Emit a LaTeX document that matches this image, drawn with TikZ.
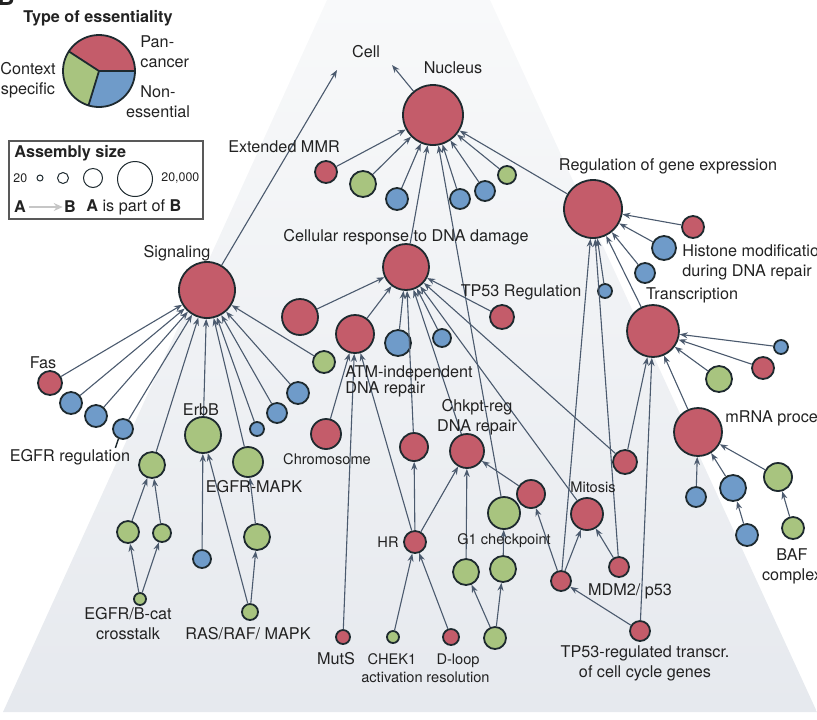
\documentclass[tikz,border=0pt]{standalone}
\usepackage{fontspec}
\setmainfont{TeX Gyre Heros}
\usetikzlibrary{arrows.meta}
\definecolor{panRed}{HTML}{C45C6A}
\definecolor{ctxGreen}{HTML}{A8C47F}
\definecolor{nonBlue}{HTML}{6F9BC9}
\definecolor{hfOutline}{HTML}{1E2A2F}
\definecolor{edgeSlate}{HTML}{4B5A6E}
\definecolor{hfInk}{HTML}{222222}
\definecolor{fadeTop}{HTML}{F8F9FA}
\definecolor{fadeBot}{HTML}{E6E9EE}
\newcommand{\lblfont}{\fontsize{8.1}{10}\selectfont}
\newcommand{\lblsmall}{\fontsize{7.3}{9}\selectfont}
\newcommand{\lbltiny}{\fontsize{6.2}{7.5}\selectfont}
\tikzset{
  asm/.style={circle,draw=hfOutline,line width=0.9pt,inner sep=0pt},
  pan/.style={asm,fill=panRed},
  ctx/.style={asm,fill=ctxGreen},
  non/.style={asm,fill=nonBlue},
  partof/.style={draw=edgeSlate,line width=0.55pt,-{Stealth[length=4pt,width=3pt]}},
  lbl/.style={text=hfInk,font=\lblfont,inner sep=0pt},
  lbls/.style={text=hfInk,font=\lblsmall,inner sep=0pt},
}
\begin{document}
\begin{tikzpicture}[x=0.5pt,y=-0.5pt]
  \useasboundingbox (0,0) rectangle (817,719);
  % fading backdrop
  \shade[top color=fadeTop,bottom color=fadeBot] (327,0) -- (490,0) -- (817,712) -- (3,712) -- cycle;
  \node[text=hfInk,font=\bfseries\fontsize{12}{12}\selectfont,anchor=base west,inner sep=0pt] (panel) at (-3,5) {B};

  % legend: type of essentiality
  \node[lbl,font=\bfseries\lblfont] (typehead) at (98,18) {Type of essentiality};
  \fill[panRed] (99,71) -- ++(0:36) arc[start angle=0,end angle=-147,radius=36] -- cycle;
  \fill[ctxGreen] (99,71) -- ++(-147:36) arc[start angle=-147,end angle=-253,radius=36] -- cycle;
  \fill[nonBlue] (99,71) -- ++(-253:36) arc[start angle=-253,end angle=-360,radius=36] -- cycle;
  \draw[hfOutline,line width=0.9pt] (99,71) circle (36);
  \draw[hfOutline,line width=0.9pt] (99,71) -- ++(0:36) (99,71) -- ++(-147:36) (99,71) -- ++(-253:36);
  \node[lbl,align=left,anchor=west] (pan) at (140,52) {Pan-\\cancer};
  \node[lbl,align=center] (ctx) at (28,80) {Context\\specific};
  \node[lbl,align=center] (non) at (158,102) {Non-\\essential};

  % legend: assembly size
  \draw[gray!70!black,line width=0.6pt] (9,141) rectangle (203,219);
  \node[lbl,font=\bfseries\lblfont,anchor=west] (sizehead) at (14,153) {Assembly size};
  \node[lbl,font=\lbltiny,anchor=west] (szmin) at (13,178) {20};
  \node[asm,line width=0.5pt,minimum size=3pt] (szA) at (40,178) {};
  \node[asm,line width=0.5pt,minimum size=5.5pt] (szB) at (63,178) {};
  \node[asm,line width=0.5pt,minimum size=9.5pt] (szC) at (93,178) {};
  \node[asm,line width=0.5pt,minimum size=17.5pt] (szD) at (135,179) {};
  \node[lbl,font=\lbltiny,anchor=west] (szmax) at (161,178) {20,000};
  \node[lbl,font=\bfseries\lblfont] (legA) at (20,207) {A};
  \node[lbl,font=\bfseries\lblfont] (legB) at (70,207) {B};
  \draw[gray!45,line width=1.3pt,-{Stealth[length=4.5pt,width=4pt]}] ([xshift=1.5pt]legA.east) -- ([xshift=-0.5pt]legB.west);
  \node[lbl,anchor=west] (legtxt) at (86,207) {\textbf{A} is part of \textbf{B}};

  % top targets
  \coordinate (cellA) at (337,70);
  \coordinate (cellB) at (392,65);
  \node[lbl] (celltxt) at (366,52) {Cell};

  % nucleus
  \node[pan,minimum size=30pt] (nuc) at (433,115) {};
  \node[pan,minimum size=11pt] (mmr) at (326,172) {};
  \node[ctx,minimum size=13pt] (nucA) at (363,184) {};
  \node[non,minimum size=11pt] (nucB) at (397,199) {};
  \node[non,minimum size=10pt] (nucC) at (460,199) {};
  \node[non,minimum size=10pt] (nucD) at (485,191) {};
  \node[ctx,minimum size=9pt] (nucE) at (507,175) {};

  % signaling
  \node[pan,minimum size=28pt] (sig) at (207,290) {};
  \node[pan,minimum size=12pt] (fas) at (50,383) {};
  \node[non,minimum size=11pt] (sigA) at (71,403) {};
  \node[non,minimum size=11pt] (sigB) at (96,416) {};
  \node[non,minimum size=10pt] (egfrreg) at (123,429) {};
  \node[ctx,minimum size=13pt] (sigC) at (152,465) {};
  \node[ctx,minimum size=18pt] (erbb) at (203,435) {};
  \node[non,minimum size=7pt] (sigD) at (257,429) {};
  \node[ctx,minimum size=15pt] (egfrmapk) at (248,462) {};
  \node[non,minimum size=10pt] (sigE) at (277,413) {};
  \node[non,minimum size=11pt] (sigF) at (298,393) {};
  \node[ctx,minimum size=11pt] (sigG) at (324,362) {};
  \node[ctx,minimum size=11pt] (bcatA) at (128,532) {};
  \node[ctx,minimum size=9pt] (bcatB) at (162,533) {};
  \node[ctx,minimum size=6pt] (bcat) at (140,599) {};
  \node[non,minimum size=9pt] (erbbA) at (202,559) {};
  \node[ctx,minimum size=13pt] (rasA) at (257,537) {};
  \node[ctx,minimum size=8pt] (ras) at (250,612) {};

  % DNA damage response
  \node[pan,minimum size=23pt] (crd) at (406,267) {};
  \node[pan,minimum size=18pt] (crdA) at (300,317) {};
  \node[pan,minimum size=19pt] (atm) at (355,334) {};
  \node[non,minimum size=13pt] (crdB) at (398,343) {};
  \node[non,minimum size=9pt] (crdC) at (442,338) {};
  \node[pan,minimum size=12pt] (tp53reg) at (502,317) {};
  \node[pan,minimum size=15pt] (chrom) at (326,434) {};
  \node[pan,minimum size=7pt] (muts) at (343,637) {};
  \node[pan,minimum size=11pt] (hr) at (415,542) {};
  \node[pan,minimum size=14pt] (hrA) at (414,447) {};
  \node[pan,minimum size=17pt] (chkpt) at (467,451) {};
  \node[ctx,minimum size=6pt] (chek) at (393,637) {};
  \node[pan,minimum size=8pt] (dloop) at (451,637) {};
  \node[ctx,minimum size=16pt] (g1) at (504,513) {};
  \node[ctx,minimum size=13pt] (g1A) at (466,572) {};
  \node[ctx,minimum size=13pt] (g1B) at (503,569) {};
  \node[ctx,minimum size=11pt] (g1C) at (495,638) {};
  \node[pan,minimum size=14pt] (chkA) at (531,494) {};
  \node[pan,minimum size=16pt] (mit) at (587,514) {};
  \node[pan,minimum size=10pt] (mdm) at (561,581) {};
  \node[pan,minimum size=10pt] (mitA) at (619,567) {};
  \node[pan,minimum size=10pt] (tp53tx) at (640,631) {};
  \node[pan,minimum size=12pt] (crdD) at (625,462) {};

  % gene expression
  \node[pan,minimum size=29pt] (reg) at (593,209) {};
  \node[pan,minimum size=11pt] (regA) at (693,227) {};
  \node[non,minimum size=12pt] (histone) at (664,248) {};
  \node[non,minimum size=10pt] (regB) at (645,273) {};
  \node[non,minimum size=7pt] (regC) at (605,291) {};
  \node[pan,minimum size=26pt] (trans) at (653,331) {};
  \node[non,minimum size=7pt] (transA) at (781,347) {};
  \node[pan,minimum size=11pt] (transB) at (763,368) {};
  \node[ctx,minimum size=13pt] (transC) at (719,379) {};
  \node[pan,minimum size=24pt] (mrna) at (698,432) {};
  \node[non,minimum size=10pt] (mrnaA) at (696,497) {};
  \node[non,minimum size=13pt] (mrnaB) at (733,488) {};
  \node[ctx,minimum size=14pt] (mrnaC) at (778,477) {};
  \node[non,minimum size=11pt] (mrnaD) at (747,535) {};
  \node[ctx,minimum size=11pt] (baf) at (793,528) {};

  % part-of links
  \draw[partof] (nuc) -- (cellB);
  \draw[partof] (sig) -- (cellA);
  \foreach \a/\b in {mmr/nuc,nucA/nuc,nucB/nuc,nucC/nuc,nucD/nuc,nucE/nuc,crd/nuc,g1/nuc,reg/nuc,
    fas/sig,sigA/sig,sigB/sig,egfrreg/sig,sigC/sig,erbb/sig,sigD/sig,egfrmapk/sig,sigE/sig,sigF/sig,sigG/sig,
    bcatA/sigC,bcatB/sigC,bcat/bcatA,bcat/bcatB,erbbA/erbb,ras/erbb,ras/rasA,rasA/egfrmapk,
    crdA/crd,atm/crd,crdB/crd,crdC/crd,tp53reg/crd,hrA/crd,chkpt/crd,mit/crd,crdD/crd,
    chrom/atm,muts/atm,hr/atm,hr/hrA,hr/chkpt,chek/hr,dloop/hr,g1A/chkpt,chkA/chkpt,g1B/g1,g1C/g1A,g1C/g1B,
    mdm/chkA,mdm/mit,mdm/reg,mitA/mit,mitA/reg,tp53tx/mdm,tp53tx/trans,crdD/trans,
    regA/reg,histone/reg,regB/reg,regC/reg,trans/reg,transA/trans,transB/trans,transC/trans,mrna/trans,
    mrnaA/mrna,mrnaB/mrna,mrnaC/mrna,mrnaD/mrnaB,baf/mrnaC}
    \draw[partof] (\a) -- (\b);
  \draw[hfOutline,line width=0.7pt] (egfrreg.245) -- ++(-3,9);

  % labels
  \node[lbl] (nuctxt) at (453,68) {Nucleus};
  \node[lbl] (mmrtxt) at (284,147) {Extended MMR};
  \node[lbl] (regtxt) at (668,166) {Regulation of gene expression};
  \node[lbl,align=left,anchor=west] (histtxt) at (682,262) {Histone modification\\during DNA repair};
  \node[lbl] (transtxt) at (692,295) {Transcription};
  \node[lbl] (crdtxt) at (406,237) {Cellular response to DNA damage};
  \node[lbl] (tp53txt) at (521,292) {TP53 Regulation};
  \node[lbl] (sigtxt) at (177,253) {Signaling};
  \node[lbl] (fastxt) at (43,363) {Fas};
  \node[lbl] (egfrtxt) at (70,457) {EGFR regulation};
  \node[lbl] (erbbtxt) at (201,410) {ErbB};
  \node[lbl] (mapktxt) at (254,487) {EGFR-MAPK};
  \node[lbl,font=\fontsize{8.1}{8}\selectfont,align=left,anchor=west] (atmtxt) at (345,381) {ATM-independent\\DNA repair};
  \node[lbl,align=center] (chkpttxt) at (477,417) {Chkpt-reg\\DNA repair};
  \node[lbls] (chromtxt) at (327,459) {Chromosome};
  \node[lbls] (hrtxt) at (388,542) {HR};
  \node[lbl] (mutstxt) at (336,659) {MutS};
  \node[lbls,align=center] (chektxt) at (392,668) {CHEK1\\activation};
  \node[lbls,align=center] (dlooptxt) at (458,668) {D-loop\\resolution};
  \node[lbls] (g1txt) at (504,541) {G1 checkpoint};
  \node[lbls] (mittxt) at (593,487) {Mitosis};
  \node[lbl] (mdmtxt) at (630,591) {MDM2/ p53};
  \node[lbl,align=center] (tp53txtb) at (645,663) {TP53-regulated transcr.\\of cell cycle genes};
  \node[lbl,anchor=west] (mrnatxt) at (725,418) {mRNA processing};
  \node[lbl,align=center] (baftxt) at (792,566) {BAF\\complex};
  \node[lbl,align=center] (bcattxt) at (128,624) {EGFR/B-cat\\crosstalk};
  \node[lbl] (rastxt) at (248,634) {RAS/RAF/ MAPK};
\end{tikzpicture}
\end{document}
